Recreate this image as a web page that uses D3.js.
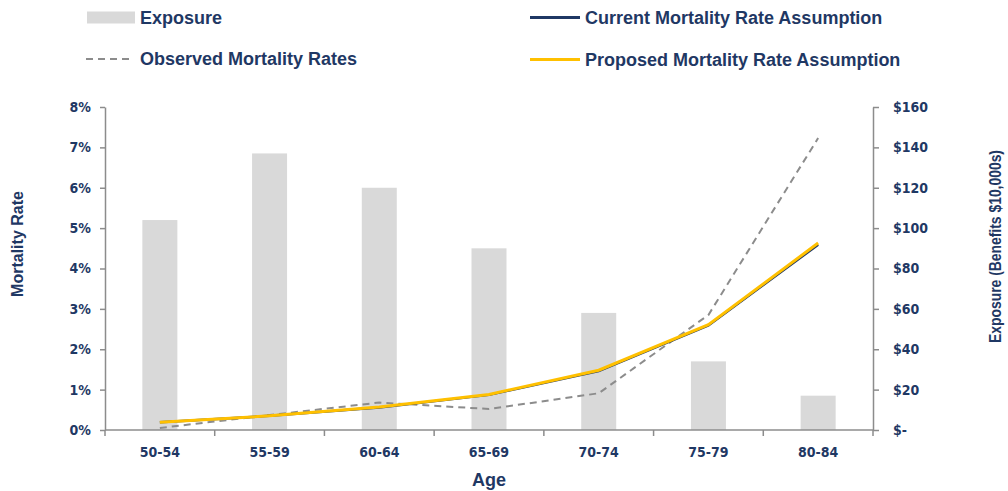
<!DOCTYPE html>
<html>
<head>
<meta charset="utf-8">
<script src="https://cdn.jsdelivr.net/npm/d3@7"></script>
<style>
  html, body { margin: 0; padding: 0; background: #fff; }
  svg text { fill: #1F3864; font-weight: bold; }
  .tick text { font-family: "DejaVu Sans Condensed", "DejaVu Sans", Verdana, sans-serif; font-size: 14px; }
  .lbl { font-family: "Liberation Sans Narrow", "Arial Narrow", "Liberation Sans", sans-serif; font-size: 18px; }
</style>
</head>
<body>
<svg id="chart" width="1008" height="491"></svg>
<script>
// Age bands on the x axis
const ageBands = ["50-54", "55-59", "60-64", "65-69", "70-74", "75-79", "80-84"];
// Exposure (benefits, $10,000s) – bars on the right axis
const exposure = [104, 137, 120, 90, 58, 34, 17];
// Mortality rates (%) – lines on the left axis
const observedRates = [0.05, 0.37, 0.68, 0.52, 0.91, 2.85, 7.23];
const currentRates = [0.19, 0.35, 0.56, 0.87, 1.46, 2.59, 4.59];
const proposedRates = [0.19, 0.35, 0.57, 0.88, 1.48, 2.61, 4.63];
// Axis tick values
const rateTicks = [0, 1, 2, 3, 4, 5, 6, 7, 8];
const exposureTicks = [0, 20, 40, 60, 80, 100, 120, 140, 160];

const svg = d3.select("#chart");
const plotLeft = 105, plotRight = 873, plotTop = 107, plotBottom = 430;

const x = d3.scaleBand().domain(ageBands).range([plotLeft, plotRight]);
const yRate = d3.scaleLinear().domain([0, 8]).range([plotBottom, plotTop]);
const yExp = d3.scaleLinear().domain([0, 160]).range([plotBottom, plotTop]);

// Exposure bars
const barW = 35;
svg.append("g").selectAll("rect").data(exposure).join("rect")
  .attr("x", (d, i) => x(ageBands[i]) + x.bandwidth() / 2 - barW / 2)
  .attr("y", d => yExp(d))
  .attr("width", barW)
  .attr("height", d => yExp(0) - yExp(d))
  .attr("fill", "#D9D9D9");

// Axes
const axisColor = "#8C8C8C";
function styleAxis(g) {
  g.selectAll(".domain").attr("stroke", axisColor).attr("stroke-width", 1.5);
  g.selectAll(".tick line").attr("stroke", axisColor).attr("stroke-width", 1.5);
}

const leftAxis = svg.append("g").attr("transform", `translate(${plotLeft},0)`)
  .call(d3.axisLeft(yRate).tickValues(rateTicks).tickFormat(d => d + "%").tickSize(5).tickSizeOuter(0).tickPadding(9));
styleAxis(leftAxis);

const rightAxis = svg.append("g").attr("transform", `translate(${plotRight},0)`)
  .call(d3.axisRight(yExp).tickValues(exposureTicks).tickFormat(d => d === 0 ? "$-" : "$" + d).tickSize(6).tickSizeOuter(0).tickPadding(14));
styleAxis(rightAxis);

// Bottom axis: tick marks at band boundaries, labels at band centres
const bottomAxis = svg.append("g").attr("transform", `translate(0,${plotBottom})`);
bottomAxis.append("line").attr("x1", plotLeft).attr("x2", plotRight).attr("stroke", axisColor).attr("stroke-width", 1.5);
const bounds = ageBands.map(d => x(d)).concat([plotRight]);
bottomAxis.selectAll(".bt").data(bounds).join("line")
  .attr("x1", d => d).attr("x2", d => d).attr("y1", 0).attr("y2", 6)
  .attr("stroke", axisColor).attr("stroke-width", 1.5);
bottomAxis.selectAll(".tick").data(ageBands).join("g").attr("class", "tick")
  .append("text")
  .attr("x", d => x(d) + x.bandwidth() / 2)
  .attr("y", 22)
  .attr("dy", "0.35em")
  .attr("text-anchor", "middle")
  .text(d => d);

// Lines
const cx = i => x(ageBands[i]) + x.bandwidth() / 2;
const line = d3.line().x((d, i) => cx(i)).y(d => yRate(d));

svg.append("path").datum(observedRates).attr("d", line)
  .attr("fill", "none").attr("stroke", "#8C8C8C").attr("stroke-width", 2)
  .attr("stroke-dasharray", "7,5");
svg.append("path").datum(currentRates).attr("d", line)
  .attr("fill", "none").attr("stroke", "#1F3864").attr("stroke-width", 2.5);
svg.append("path").datum(proposedRates).attr("d", line)
  .attr("fill", "none").attr("stroke", "#FFC000").attr("stroke-width", 3);

// Axis titles
svg.append("text").attr("class", "lbl")
  .attr("transform", "translate(17.5,244) rotate(-90)")
  .attr("dy", "0.35em")
  .style("font-size", "16px")
  .attr("text-anchor", "middle").text("Mortality Rate");
svg.append("text").attr("class", "lbl")
  .attr("transform", "translate(995,246.5) rotate(-90)")
  .attr("dy", "0.35em")
  .style("font-size", "16px")
  .attr("textLength", 193).attr("lengthAdjust", "spacingAndGlyphs")
  .attr("text-anchor", "middle").text("Exposure (Benefits $10,000s)");
svg.append("text").attr("class", "lbl")
  .attr("x", (plotLeft + plotRight) / 2).attr("y", 486)
  .attr("text-anchor", "middle").text("Age");

// Legend
const legend = svg.append("g");
const items = [
  { name: "Exposure", type: "bar", x: 87, y: 17.5 },
  { name: "Current Mortality Rate Assumption", type: "current", x: 530, y: 17.5 },
  { name: "Observed Mortality Rates", type: "observed", x: 86, y: 59 },
  { name: "Proposed Mortality Rate Assumption", type: "proposed", x: 530, y: 59.5 }
];
items.forEach(it => {
  const g = legend.append("g").attr("transform", `translate(${it.x},${it.y})`);
  if (it.type === "bar") {
    g.append("rect").attr("x", 0).attr("y", -6).attr("width", 48).attr("height", 12).attr("fill", "#D9D9D9");
  } else if (it.type === "observed") {
    g.append("line").attr("x1", 0).attr("x2", 46).attr("stroke", "#8C8C8C").attr("stroke-width", 2).attr("stroke-dasharray", "7,5");
  } else {
    g.append("line").attr("x1", 0).attr("x2", 50)
      .attr("stroke", it.type === "current" ? "#1F3864" : "#FFC000").attr("stroke-width", 3);
  }
  const tx = it.type === "bar" ? 53 : (it.type === "observed" ? 54 : 55);
  g.append("text").attr("class", "lbl").attr("x", tx).attr("dy", "0.35em").text(it.name);
});
</script>
</body>
</html>
